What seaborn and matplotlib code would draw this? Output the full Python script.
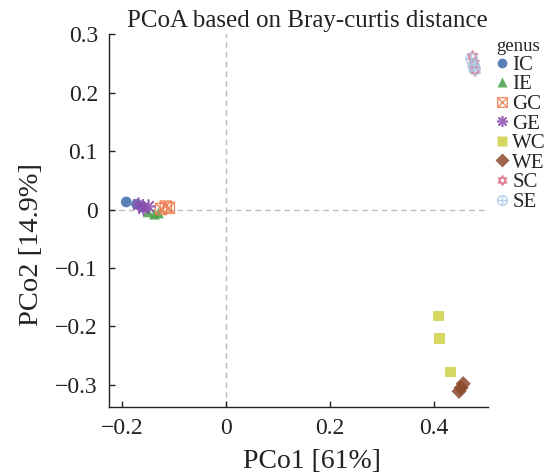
import numpy as np
import pandas as pd
import matplotlib
matplotlib.use("Agg")
import matplotlib.pyplot as plt
from matplotlib.path import Path
from matplotlib.lines import Line2D
import seaborn as sns

groups = ["IC", "IE", "GC", "GE", "WC", "WE", "SC", "SE"]
colors = ["#3d6aa9", "#45a046", "#ee7c4e", "#8e4fb0", "#cfd246", "#8b4a2c", "#dd6a86", "#a9c9e6"]
pc1 = {
    "IC": [-0.192, -0.172, -0.160],
    "IE": [-0.150, -0.138, -0.130],
    "GC": [-0.125, -0.116, -0.110],
    "GE": [-0.170, -0.160, -0.150],
    "WC": [0.408, 0.410, 0.432],
    "WE": [0.448, 0.452, 0.456],
    "SC": [0.474, 0.477, 0.479],
    "SE": [0.472, 0.476, 0.478],
}
pc2 = {
    "IC": [0.013, 0.009, 0.004],
    "IE": [-0.004, -0.008, -0.006],
    "GC": [0.001, 0.005, 0.003],
    "GE": [0.009, 0.002, 0.006],
    "WC": [-0.182, -0.221, -0.278],
    "WE": [-0.311, -0.305, -0.298],
    "SC": [0.262, 0.250, 0.238],
    "SE": [0.258, 0.246, 0.240],
}
title = "PCoA based on Bray-curtis distance"
xlabel = "PCo1 [61%]"
ylabel = "PCo2 [14.9%]"

rows = []
for g in groups:
    for a, b in zip(pc1[g], pc2[g]):
        rows.append({"PC1": a, "PC2": b, "genus": g})
df = pd.DataFrame(rows)

# custom markers
sq_x = Path([(-1, -1), (1, -1), (1, 1), (-1, 1), (-1, -1), (-1, -1), (1, 1), (-1, 1), (1, -1)],
            [Path.MOVETO, Path.LINETO, Path.LINETO, Path.LINETO, Path.CLOSEPOLY,
             Path.MOVETO, Path.LINETO, Path.MOVETO, Path.LINETO])
ang_up = np.deg2rad([90, 210, 330])
ang_dn = np.deg2rad([270, 30, 150])
tv = [(np.cos(a), np.sin(a)) for a in ang_up]
bv = [(np.cos(a), np.sin(a)) for a in ang_dn]
hexagram = Path(tv + [tv[0]] + bv + [bv[0]],
                [Path.MOVETO, Path.LINETO, Path.LINETO, Path.CLOSEPOLY,
                 Path.MOVETO, Path.LINETO, Path.LINETO, Path.CLOSEPOLY])
circ = Path.unit_circle()
circ_plus = Path.make_compound_path(circ, Path([(-1, 0), (1, 0), (0, -1), (0, 1)],
                                               [Path.MOVETO, Path.LINETO, Path.MOVETO, Path.LINETO]))
asterisk = (8, 2, 0)

# kind: "fill" filled marker, "open" outline path, "line" line-art marker
markers = {"IC": ("o", "fill"), "IE": ("^", "fill"), "GC": (sq_x, "open"), "GE": (asterisk, "line"),
           "WC": ("s", "fill"), "WE": ("D", "fill"), "SC": (hexagram, "open"), "SE": (circ_plus, "open")}

sns.set_theme(style="white")
plt.rcParams["font.family"] = ["Liberation Serif", "DejaVu Serif"]

fig = plt.figure(figsize=(5.51, 4.75), dpi=100)
ax = fig.add_axes([0.198, 0.143, 0.688, 0.785])

ax.axhline(0, color="#bbbbbb", ls=(0, (4, 3)), lw=1, zorder=0)
ax.axvline(0, color="#bbbbbb", ls=(0, (4, 3)), lw=1, zorder=0)

for g, c in zip(groups, colors):
    m, kind = markers[g]
    sub = df[df["genus"] == g]
    if kind == "fill":
        sns.scatterplot(data=sub, x="PC1", y="PC2", marker=m, s=60, color=c,
                        edgecolor="none", alpha=0.85, ax=ax, legend=False)
    elif kind == "open":
        sns.scatterplot(data=sub, x="PC1", y="PC2", marker=m, s=65, facecolor="none",
                        edgecolor=c, linewidth=1.0, alpha=0.85, ax=ax, legend=False)
    else:
        sns.scatterplot(data=sub, x="PC1", y="PC2", marker=m, s=85, color=c,
                        linewidth=1.2, alpha=0.85, ax=ax, legend=False)

ax.set_xlim(-0.225, 0.504)
ax.set_ylim(-0.338, 0.3)
ax.set_xticks([-0.2, 0, 0.2, 0.4])
ax.set_xticklabels(["\u22120.2", "0", "0.2", "0.4"])
ax.set_yticks([0.3, 0.2, 0.1, 0, -0.1, -0.2, -0.3])
ax.set_yticklabels(["0.3", "0.2", "0.1", "0", "\u22120.1", "\u22120.2", "\u22120.3"])
for s in ["top", "right"]:
    ax.spines[s].set_visible(False)
for s in ["left", "bottom"]:
    ax.spines[s].set_color("#222222")
    ax.spines[s].set_linewidth(1.0)
ax.tick_params(direction="in", length=4, width=1, color="#222222", labelsize=17,
               labelcolor="#222222", left=True, bottom=True, pad=8)
ax.set_xlabel(xlabel, fontsize=20, color="#222222", labelpad=7)
ax.set_ylabel(ylabel, fontsize=20.5, color="#222222", labelpad=8)
ax.xaxis.label.set_x(0.535)
ax.yaxis.label.set_y(0.435)
ax.set_title(title, fontsize=18, color="#222222", pad=5, x=0.522)

handles = []
for g, c in zip(groups, colors):
    m, kind = markers[g]
    if kind == "fill":
        h = Line2D([], [], ls="none", marker=m, markersize=7, color=c, markeredgecolor="none", alpha=0.85)
    elif kind == "open":
        h = Line2D([], [], ls="none", marker=m, markersize=7, markerfacecolor="none",
                   markeredgecolor=c, markeredgewidth=1.0, alpha=0.85)
    else:
        h = Line2D([], [], ls="none", marker=m, markersize=8, color=c,
                   markeredgewidth=1.2, alpha=0.85)
    handles.append(h)
leg = ax.legend(handles, groups, title="genus", loc="upper left", bbox_to_anchor=(0.995, 1.017),
                frameon=False, fontsize=15, title_fontsize=13.5, handlelength=0.5,
                handletextpad=0.25, labelspacing=0.0, borderpad=0.0)
leg._legend_box.align = "left"

fig.savefig("out.png", dpi=100)
